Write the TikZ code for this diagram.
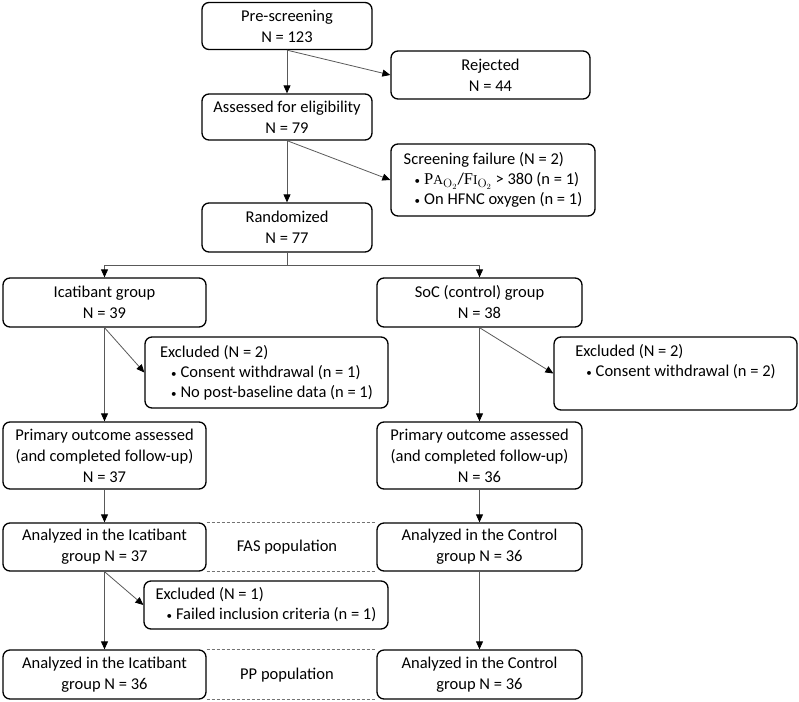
\documentclass[tikz,border=0pt]{standalone}
\usepackage[no-math]{fontspec}
\setmainfont{Carlito}
\newfontfamily\ratiofont{Liberation Serif}
\usetikzlibrary{arrows.meta,positioning}
\tikzset{every picture/.style={line join=round}}
\newcommand{\pfratio}{{\ratiofont P{\fontsize{13.5}{13}\selectfont A}}$_{\mathrm{O}_2}$/{\ratiofont F{\fontsize{13.5}{13}\selectfont I}}$_{\mathrm{O}_2}$}
\newcommand{\bul}{\hspace*{11pt}{\fontsize{11}{11}\selectfont\textbullet}\hspace{4pt}}

\begin{document}
\begin{tikzpicture}[x=1pt,y=-1pt,
  font=\fontsize{16.5}{21}\selectfont,
  stage/.style={draw=black,line width=1.3pt,rounded corners=7pt,align=center,inner sep=0pt},
  exclbox/.style={draw=black,line width=1.3pt,rounded corners=7pt,align=left,inner xsep=8pt,inner ysep=0pt,font=\fontsize{16.5}{20}\selectfont},
  flow/.style={draw=black!65,line width=0.8pt,-{Triangle[length=8pt,width=7pt,color=black]}},
  popline/.style={draw=black!55,line width=0.7pt,dash pattern=on 3pt off 2pt}]
\useasboundingbox (0,0) rectangle (799,701);
% \draw[help lines] (0,0) grid[step=50pt] (799,701);
\node (pre) [stage,minimum width=170pt,minimum height=47pt] at (287,26) {Pre-screening\\N = 123};
\node (rej) [stage,minimum width=199pt,minimum height=48pt] at (490.5,75) {Rejected\\N = 44};
\node (elig) [stage,minimum width=170pt,minimum height=46pt] at (287,117) {Assessed for eligibility\\N = 79};
\node (fail) [exclbox,inner xsep=7pt,minimum width=204pt,minimum height=72pt] at (493,180) {Screening failure (N = 2)\\\bul\pfratio{} > 380 (n = 1)\\\bul On HFNC oxygen (n = 1)};
\node (rand) [stage,minimum width=170pt,minimum height=49pt] at (287,227.5) {Randomized\\N = 77};
\coordinate (split) at (287,265);
%
\node (ica) [stage,minimum width=203pt,minimum height=49pt] at (104.5,302.5) {Icatibant group\\N = 39};
\node (soc) [stage,minimum width=205pt,minimum height=49pt] at (479.5,302.5) {SoC (control) group\\N = 38};
\node (exica) [exclbox,minimum width=243pt,minimum height=71pt] at (266.5,372.5) {Excluded (N = 2)\\\bul Consent withdrawal (n = 1)\\\bul No post-baseline data (n = 1)};
\node (exsoc) [exclbox,minimum width=243pt,minimum height=73pt] at (675.5,373.5) {Excluded (N = 2)\\\bul Consent withdrawal (n = 2)\\\strut};
\node (primica) [stage,minimum width=203pt,minimum height=67pt] at (104.5,455.5) {Primary outcome assessed\\(and completed follow-up)\\N = 37};
\node (primsoc) [stage,minimum width=205pt,minimum height=67pt] at (479.5,455.5) {Primary outcome assessed\\(and completed follow-up)\\N = 36};
%
\node (fasica) [stage,minimum width=203pt,minimum height=48pt] at (104.5,547) {Analyzed in the Icatibant\\group N = 37};
\node (fassoc) [stage,minimum width=205pt,minimum height=48pt] at (479.5,547) {Analyzed in the Control\\group N = 36};
\node (fas) at (287,547) {FAS population};
\node (ex1) [exclbox,minimum width=244pt,minimum height=48pt] at (266,605) {Excluded (N = 1)\\\bul Failed inclusion criteria (n = 1)};
\node (ppica) [stage,minimum width=203pt,minimum height=49pt] at (104.5,674.5) {Analyzed in the Icatibant\\group N = 36};
\node (ppsoc) [stage,minimum width=205pt,minimum height=49pt] at (479.5,674.5) {Analyzed in the Control\\group N = 36};
\node (pp) at (287,675) {PP population};
%
\draw[flow] (pre) -- (elig);
\draw[flow] (pre.south) -- (rej.west);
\draw[flow] (elig) -- (rand);
\draw[flow] (elig.south) -- (fail.west);
\draw[draw=black!65,line width=0.8pt] (rand) -- (split);
\draw[flow] (split) -| (ica.north);
\draw[flow] (split) -| (soc.north);
%
\draw[flow] (ica) -- (primica);
\draw[flow] (ica.south) -- (exica.west);
\draw[flow] (soc) -- (primsoc);
\draw[flow] (soc.south) -- (exsoc.west);
\draw[flow] (primica) -- (fasica);
\draw[flow] (primsoc) -- (fassoc);
\draw[flow] (fasica) -- (ppica);
\draw[flow] (fasica.south) -- (ex1.west);
\draw[flow] (fassoc) -- (ppsoc);
%
\draw[popline] (fasica.north east) -- (fassoc.north west);
\draw[popline] (fasica.south east) -- (fassoc.south west);
\draw[popline] (ppica.north east) -- (ppsoc.north west);
\draw[popline] (ppica.south east) -- (ppsoc.south west);
\end{tikzpicture}
\end{document}
